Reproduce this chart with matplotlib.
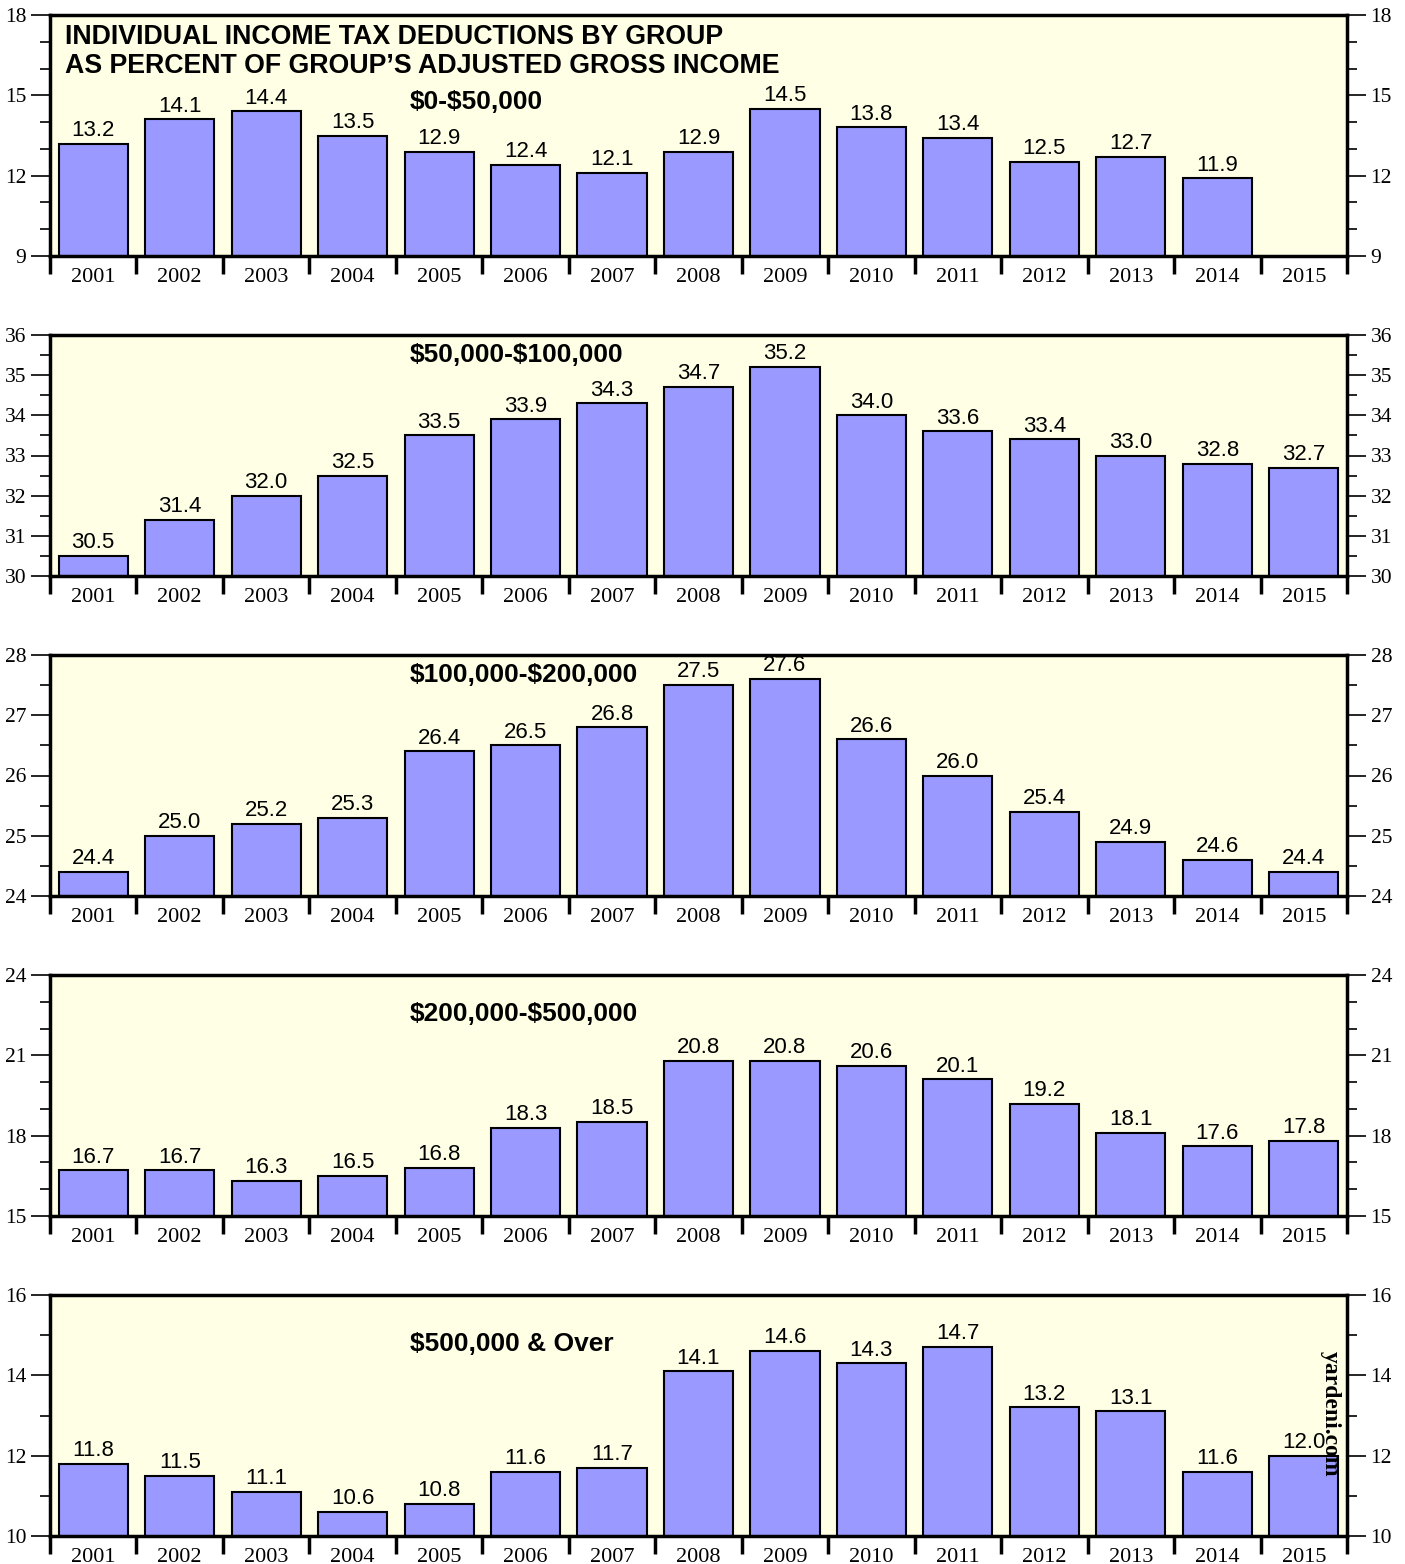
import numpy as np
import matplotlib
matplotlib.use("Agg")
import matplotlib.pyplot as plt
from matplotlib.ticker import MultipleLocator, FixedLocator, NullFormatter

plt.rcParams["text.parse_math"] = False

years = ["2001", "2002", "2003", "2004", "2005", "2006", "2007", "2008",
         "2009", "2010", "2011", "2012", "2013", "2014", "2015"]

group_0_50k = [13.2, 14.1, 14.4, 13.5, 12.9, 12.4, 12.1, 12.9, 14.5, 13.8,
               13.4, 12.5, 12.7, 11.9, np.nan]
group_50_100k = [30.5, 31.4, 32.0, 32.5, 33.5, 33.9, 34.3, 34.7, 35.2, 34.0,
                 33.6, 33.4, 33.0, 32.8, 32.7]
group_100_200k = [24.4, 25.0, 25.2, 25.3, 26.4, 26.5, 26.8, 27.5, 27.6, 26.6,
                  26.0, 25.4, 24.9, 24.6, 24.4]
group_200_500k = [16.7, 16.7, 16.3, 16.5, 16.8, 18.3, 18.5, 20.8, 20.8, 20.6,
                  20.1, 19.2, 18.1, 17.6, 17.8]
group_500k_over = [11.8, 11.5, 11.1, 10.6, 10.8, 11.6, 11.7, 14.1, 14.6, 14.3,
                   14.7, 13.2, 13.1, 11.6, 12.0]

group_names = ["$0-$50,000", "$50,000-$100,000", "$100,000-$200,000",
               "$200,000-$500,000", "$500,000 & Over"]
series = [group_0_50k, group_50_100k, group_100_200k, group_200_500k,
          group_500k_over]

# (ymin, ymax, major step, minor step, label height from top in px)
panel_cfg = [
    (9, 18, 3, 1, 87),
    (30, 36, 1, 0.5, 20),
    (24, 28, 1, 0.5, 20),
    (15, 24, 3, 1, 39),
    (10, 16, 2, 1, 49),
]

title = ("INDIVIDUAL INCOME TAX DEDUCTIONS BY GROUP\n"
         "AS PERCENT OF GROUP\u2019S ADJUSTED GROSS INCOME")

BAR = "#9999FF"
BG = "#FFFFE6"
SANS = "Liberation Sans"
SERIF = "Liberation Serif"

W, H = 1405, 1564
fig = plt.figure(figsize=(W / 100, H / 100), dpi=100)

left_px, right_px = 50, 1347
panel_h = 241
x = np.arange(len(years))

for k, (vals, name, cfg) in enumerate(zip(series, group_names, panel_cfg)):
    ymin, ymax, major, minor, lab_dy = cfg
    top_px = 15 + 320 * k
    ax = fig.add_axes([left_px / W, 1 - (top_px + panel_h) / H,
                       (right_px - left_px) / W, panel_h / H])
    ax.set_facecolor(BG)

    vals_arr = np.array(vals, dtype=float)
    ax.bar(x, vals_arr, width=0.8, color=BAR, edgecolor="black",
           linewidth=1.5, zorder=2)
    for xi, v in zip(x, vals_arr):
        if np.isnan(v):
            continue
        ax.annotate(f"{v:.1f}", (xi, v), xytext=(0, 2),
                    textcoords="offset points", ha="center", va="bottom",
                    fontsize=16, family=SANS, zorder=3)

    ax.set_xlim(-0.5, len(years) - 0.5)
    ax.set_ylim(ymin, ymax)

    # category separators below the axis, year names between them
    ax.xaxis.set_major_locator(FixedLocator(np.arange(len(years) + 1) - 0.5))
    ax.xaxis.set_major_formatter(NullFormatter())
    ax.set_xticks(x, years, minor=True)
    ax.tick_params(axis="x", which="major", direction="out", length=13,
                   width=2.5, bottom=True, top=False)
    ax.tick_params(axis="x", which="minor", length=0, pad=8.5,
                   labelsize=16)
    for lab in ax.get_xticklabels(minor=True):
        lab.set_family(SERIF)

    ax.yaxis.set_major_locator(MultipleLocator(major))
    ax.yaxis.set_minor_locator(MultipleLocator(minor))
    ax.tick_params(axis="y", which="major", direction="out", length=14,
                   width=1.2, left=True, right=True, labelleft=True,
                   labelright=True, labelsize=15.5, pad=3)
    ax.tick_params(axis="y", which="minor", direction="out", length=7,
                   width=1.2, left=True, right=True)
    for lab in ax.get_yticklabels():
        lab.set_family(SERIF)

    for side in ("top", "bottom", "left", "right"):
        ax.spines[side].set_linewidth(2.5)
        ax.spines[side].set_zorder(4)

    ax.text((410 - left_px) / (right_px - left_px), 1 - lab_dy / panel_h,
            name, transform=ax.transAxes, ha="left", va="center",
            fontsize=19, fontweight="bold", family=SANS, zorder=3)

    if k == 0:
        ax.text(15 / (right_px - left_px), 1 - 9 / panel_h, title,
                transform=ax.transAxes, ha="left", va="top", fontsize=19.3,
                fontweight="bold", family=SANS, linespacing=1.15, zorder=3)
    if k == len(series) - 1:
        ax.text((1330 - left_px) / (right_px - left_px), 1 - 119 / panel_h,
                "yardeni.com", transform=ax.transAxes, rotation=270,
                ha="center", va="center", fontsize=17, fontweight="bold",
                family=SERIF, zorder=5)

fig.savefig("out.png", dpi=100)
